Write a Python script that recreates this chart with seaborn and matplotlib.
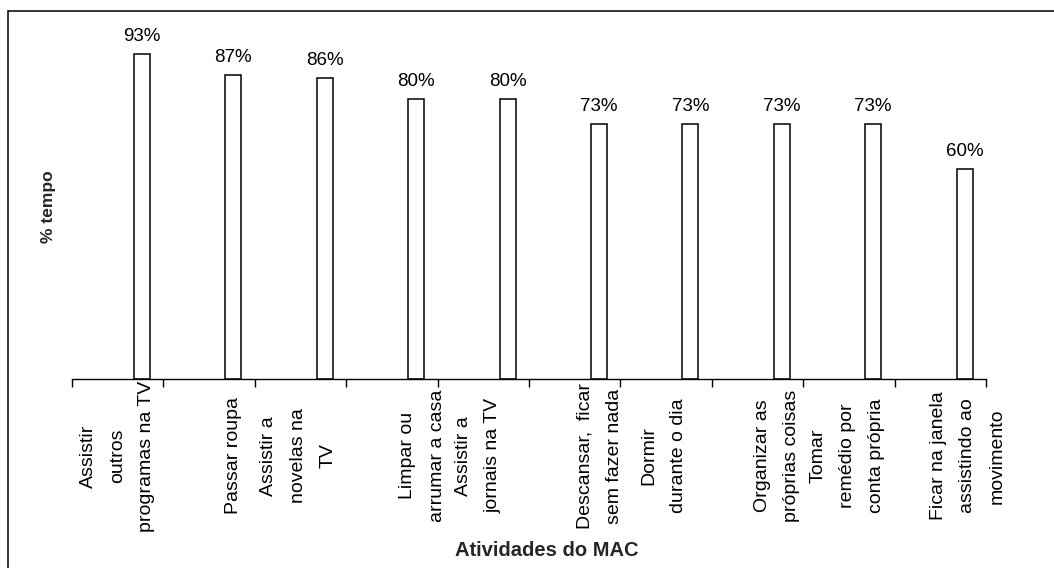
import matplotlib
matplotlib.use("Agg")
import matplotlib.pyplot as plt
import seaborn as sns
import pandas as pd
from matplotlib.lines import Line2D

categories = [
    "Assistir\noutros\nprogramas na TV",
    "Passar roupa",
    "Assistir a\nnovelas na\nTV",
    "Limpar ou\narrumar a casa",
    "Assistir a\njornais na TV",
    "Descansar,  ficar\nsem fazer nada",
    "Dormir\ndurante o dia",
    "Organizar as\npróprias coisas",
    "Tomar\nremédio por\nconta própria",
    "Ficar na janela\nassistindo ao\nmovimento",
]
values = [93, 87, 86, 80, 80, 73, 73, 73, 73, 60]
value_labels = ["93%", "87%", "86%", "80%", "80%", "73%", "73%", "73%", "73%", "60%"]
# horizontal shift of each category label relative to its bar (category units)
label_shift = [-0.27, 0.0, -0.29, 0.07, -0.32, 0.01, -0.29, -0.05, -0.28, 0.03]

sns.set_style("white")
plt.rcParams['font.family'] = ['Liberation Sans', 'DejaVu Sans']

df = pd.DataFrame({"cat": categories, "val": values})

fig = plt.figure(figsize=(10.54, 5.68), dpi=100)
ax = fig.add_axes([72/1054, 189/568, 914/1054, 349.5/568])

sns.barplot(data=df, x="cat", y="val", order=categories, color="white",
            edgecolor="black", linewidth=1.1, width=0.175, ax=ax, saturation=1)

n = len(categories)
left = -0.766
ax.set_xlim(left, left + n)
ax.set_ylim(0, 100)
bounds = [left + k for k in range(n + 1)]
ax.set_xticks(bounds)
ax.set_xticklabels([""] * (n + 1))
ax.set_yticks([])
ax.tick_params(axis="x", direction="out", length=6, width=1, color="black", bottom=True)
for s in ["top", "right", "left"]:
    ax.spines[s].set_visible(False)
ax.spines["bottom"].set_color("black")
ax.spines["bottom"].set_linewidth(1)
ax.set_xlabel("")
ax.set_ylabel("")

for i, (v, lab) in enumerate(zip(values, value_labels)):
    ax.annotate(lab, (i, v), xytext=(0, 6.5), textcoords="offset points",
                ha="center", va="bottom", fontsize=13.5, color="black")

trans = ax.get_xaxis_transform()
for i, (cat, sh) in enumerate(zip(categories, label_shift)):
    ax.text(i + sh, -0.22, cat, transform=trans, rotation=90, ha="center",
            va="center", multialignment="center", linespacing=1.95,
            fontsize=14, color="black", clip_on=False)

fig.text(49/1054, 1 - 207/568, "% tempo", rotation=90, ha="center", va="center",
         fontsize=12.5, fontweight="bold")
fig.text(547/1054, 1 - 551/568, "Atividades do MAC", ha="center", va="center",
         fontsize=14.5, fontweight="bold")

fig.add_artist(Line2D([8/1054, 8/1054], [0, 1 - 11/568], transform=fig.transFigure,
                      color="black", linewidth=1.1))
fig.add_artist(Line2D([8/1054, 1], [1 - 11/568, 1 - 11/568], transform=fig.transFigure,
                      color="black", linewidth=1.1))

fig.savefig("out.png", dpi=100)
